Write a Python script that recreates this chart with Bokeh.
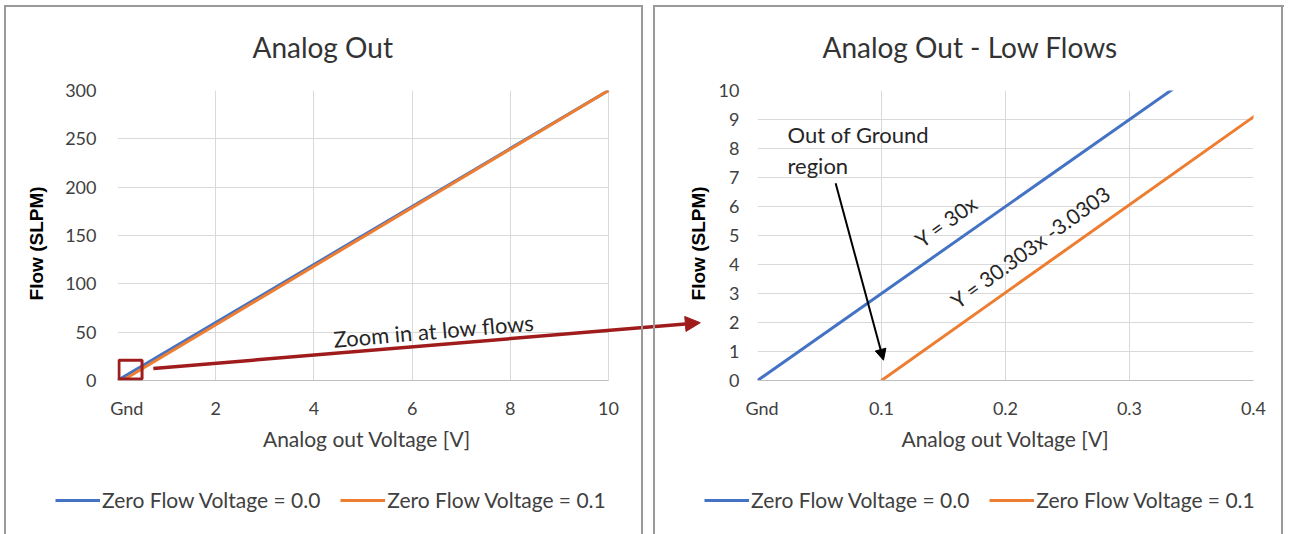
from bokeh.plotting import figure
from bokeh.models import Range1d, FixedTicker, Label, Arrow, NormalHead, Legend, LegendItem, BoxAnnotation
from bokeh.layouts import row, column
from bokeh.embed import file_html
from bokeh.resources import INLINE

# ---- data ----
volt_zero = [0, 10]          # Zero Flow Voltage = 0.0  (Y = 30x)
flow_zero = [0, 300]
volt_offset = [0.1, 10]      # Zero Flow Voltage = 0.1  (Y = 30.303x - 3.0303)
flow_offset = [0, 300]

series_names = ["Zero Flow Voltage = 0.0", "Zero Flow Voltage = 0.1"]
left_xticks = [0, 2, 4, 6, 8, 10]
left_yticks = [0, 50, 100, 150, 200, 250, 300]
right_xticks = [0, 0.1, 0.2, 0.3, 0.4]
right_yticks = [0, 1, 2, 3, 4, 5, 6, 7, 8, 9, 10]
gnd_label = "Gnd"
x_title = "Analog out Voltage [V]"
y_title = "Flow (SLPM)"

# annotation anchors (data units of each chart)
zoom_box = dict(left=0.03, right=0.5, bottom=1.5, top=21)
zoom_arrow = dict(x_start=0.73, y_start=12.4, x_end=11.87, y_end=59.8)
zoom_text = dict(x=6.44, y=51.5, text="Zoom in at low flows", angle=4.9)
ground_arrow = dict(x_start=0.063, y_start=6.8, x_end=0.1016, y_end=0.7)
ground_text = [("Out of Ground", 0.0242, 8.49), ("region", 0.0242, 7.42)]
eq_labels = [("Y = 30x", 0.152, 5.5, 36), ("Y = 30.303x -3.0303", 0.220, 4.62, 36)]

BLUE = "#4472C4"
ORANGE = "#ED7D31"
DARKRED = "#A01C1C"
GRID = "#D9D9D9"
TXT = "#404040"
CAL = "Lato"
LINEC = "#9a9a9a"
NB = "\u00a0"

# ---- layout geometry (px) ----
H_MAIN = 480
H_LEG = 54
LEFT_W = 702          # left canvas (extends under the right panel so the zoom arrow can reach it)
LEFT_FRAME = 491      # visible chart width of left plot area
RIGHT_W = 644
RIGHT_SHIFT = 62


def css_lines(h, vlines, hlines=()):
    imgs, sizes, poss = [], [], []
    for x, y0 in vlines:
        imgs.append(f"linear-gradient({LINEC},{LINEC})")
        sizes.append(f"2px {h - y0}px")
        poss.append(f"{x}px {y0}px")
    for y, x0, x1 in hlines:
        imgs.append(f"linear-gradient({LINEC},{LINEC})")
        sizes.append(f"{x1 - x0}px 2px")
        poss.append(f"{x0}px {y}px")
    return {"background-image": ",".join(imgs), "background-size": ",".join(sizes),
            "background-position": ",".join(poss), "background-repeat": "no-repeat"}


def base_fig(width, xr, yr, title, mbl, mbr, toff, xticks, yticks, gnd_pad, xlab_pad,
             ylab_standoff, ytick_standoff):
    p = figure(width=width, height=H_MAIN, x_range=Range1d(*xr), y_range=Range1d(*yr),
               output_backend="svg", toolbar_location=None,
               min_border_left=mbl, min_border_right=mbr, min_border_top=89,
               min_border_bottom=H_MAIN - 380,
               border_fill_alpha=0, background_fill_color="white", outline_line_color=None)
    p.title.text = title
    p.title.text_font = CAL
    p.title.text_font_size = "28px"
    p.title.text_font_style = "normal"
    p.title.text_color = "#333333"
    p.title.align = "left"
    p.title.offset = toff
    p.title.standoff = 54
    p.xaxis.ticker = FixedTicker(ticks=xticks)
    p.yaxis.ticker = FixedTicker(ticks=yticks)
    p.xaxis.major_label_overrides = {0: NB * gnd_pad + gnd_label}
    for ax in (p.xaxis[0], p.yaxis[0]):
        ax.major_tick_line_color = None
        ax.minor_tick_line_color = None
        ax.major_label_text_font = CAL
        ax.major_label_text_font_size = "18px"
        ax.major_label_text_color = TXT
    p.xaxis.axis_line_color = "#BFBFBF"
    p.xaxis.bounds = (xticks[0], xticks[-1])
    p.yaxis.axis_line_color = None
    p.xaxis.major_label_standoff = 10
    p.yaxis.major_label_standoff = ytick_standoff
    p.xaxis.axis_label = x_title + NB * xlab_pad
    p.xaxis.axis_label_text_font = CAL
    p.xaxis.axis_label_text_font_size = "21px"
    p.xaxis.axis_label_text_font_style = "normal"
    p.xaxis.axis_label_text_color = TXT
    p.xaxis.axis_label_standoff = 4
    p.yaxis.axis_label = y_title + NB * 3
    p.yaxis.axis_label_text_font = "Liberation Sans"
    p.yaxis.axis_label_text_font_size = "19px"
    p.yaxis.axis_label_text_font_style = "bold"
    p.yaxis.axis_label_text_color = "#000000"
    p.yaxis.axis_label_standoff = ylab_standoff
    p.xgrid.grid_line_color = GRID
    p.ygrid.grid_line_color = GRID
    p.line(volt_zero, flow_zero, line_color=BLUE, line_width=3)
    p.line(volt_offset, flow_offset, line_color=ORANGE, line_width=3)
    return p


def legend_fig(width, x_loc):
    # legend strip: the series renderers sit outside its (empty) view range, only the legend shows
    lf = figure(width=width, height=H_LEG, x_range=Range1d(-2, -1), y_range=Range1d(-2, -1),
                x_axis_type=None, y_axis_type=None, output_backend="svg", toolbar_location=None,
                min_border=0, min_border_left=0, min_border_right=0, min_border_top=0,
                min_border_bottom=0, border_fill_alpha=0, background_fill_alpha=0,
                outline_line_color=None)
    lf.xgrid.visible = False
    lf.ygrid.visible = False
    r0 = lf.line(volt_zero, flow_zero, line_color=BLUE, line_width=3)
    r1 = lf.line(volt_offset, flow_offset, line_color=ORANGE, line_width=3)
    leg = Legend(items=[LegendItem(label=series_names[0], renderers=[r0]),
                        LegendItem(label=series_names[1], renderers=[r1])],
                 location=(x_loc, 22), orientation="horizontal")
    leg.label_text_font = CAL
    leg.label_text_font_size = "21px"
    leg.label_text_color = TXT
    leg.glyph_width = 45
    leg.label_standoff = 2
    leg.spacing = 20
    leg.padding = 0
    leg.margin = 0
    leg.background_fill_alpha = 0
    leg.border_line_color = None
    lf.add_layout(leg)
    return lf


# ---- left chart ----
x_ext = left_xticks[-1] * (LEFT_W - 117) / LEFT_FRAME
p1 = base_fig(LEFT_W, (0, x_ext), (0, 300), "Analog Out", 117, 0, 135,
              left_xticks, left_yticks, 4, 16, 15, 15)
p1.styles = css_lines(H_MAIN, [(4, 5)], [(5, 4, 643)])
cover = BoxAnnotation(left=left_xticks[-1], fill_color="white", fill_alpha=1, line_alpha=0, level="underlay")
p1.add_layout(cover)
xg, yg = p1.xgrid[0], p1.ygrid[0]
p1.center = [yg, cover, xg] + [r for r in p1.center if r not in (xg, yg, cover)]
p1.add_layout(BoxAnnotation(fill_alpha=0, line_color=DARKRED, line_alpha=1, line_width=3, **zoom_box))
p1.add_layout(Arrow(line_color=DARKRED, line_width=3.5,
                    end=NormalHead(size=15, fill_color=DARKRED, line_color=DARKRED), **zoom_arrow))
p1.add_layout(Label(x=zoom_text["x"], y=zoom_text["y"], text=zoom_text["text"], angle=zoom_text["angle"],
                    angle_units="deg", text_font=CAL, text_font_size="22px", text_color="#262626",
                    text_align="center", text_baseline="middle"))

# ---- right chart ----
p2 = base_fig(RIGHT_W, (0, 0.4), (0, 10), "Analog Out - Low Flows", 117, 31, 65,
              right_xticks, right_yticks, 2, 0, 7, 12)
p2.styles = css_lines(H_MAIN, [(1, 5), (13, 5), (641, 5)], [(5, 13, RIGHT_W)])
p2.margin = (0, 0, 0, -RIGHT_SHIFT)
for txt, x, y in ground_text:
    p2.add_layout(Label(x=x, y=y, text=txt, text_font=CAL, text_font_size="22px", text_color="#262626",
                        text_align="left", text_baseline="middle"))
p2.add_layout(Arrow(line_color="#000000", line_width=2,
                    end=NormalHead(size=11, fill_color="#000000", line_color="#000000"), **ground_arrow))
for txt, x, y, ang in eq_labels:
    p2.add_layout(Label(x=x, y=y, text=txt, angle=ang, angle_units="deg", text_font=CAL,
                        text_font_size="21px", text_color="#262626", text_align="center",
                        text_baseline="middle"))

# ---- legends (one strip under each chart) ----
lf1 = legend_fig(LEFT_W - RIGHT_SHIFT, 55)
lf1.styles = css_lines(H_LEG, [(4, 0)])
lf2 = legend_fig(RIGHT_W, 64)
lf2.styles = css_lines(H_LEG, [(1, 0), (13, 0), (641, 0)])

layout = column(row(p1, p2), row(lf1, lf2))
open("out.html", "w").write(file_html(layout, INLINE))
